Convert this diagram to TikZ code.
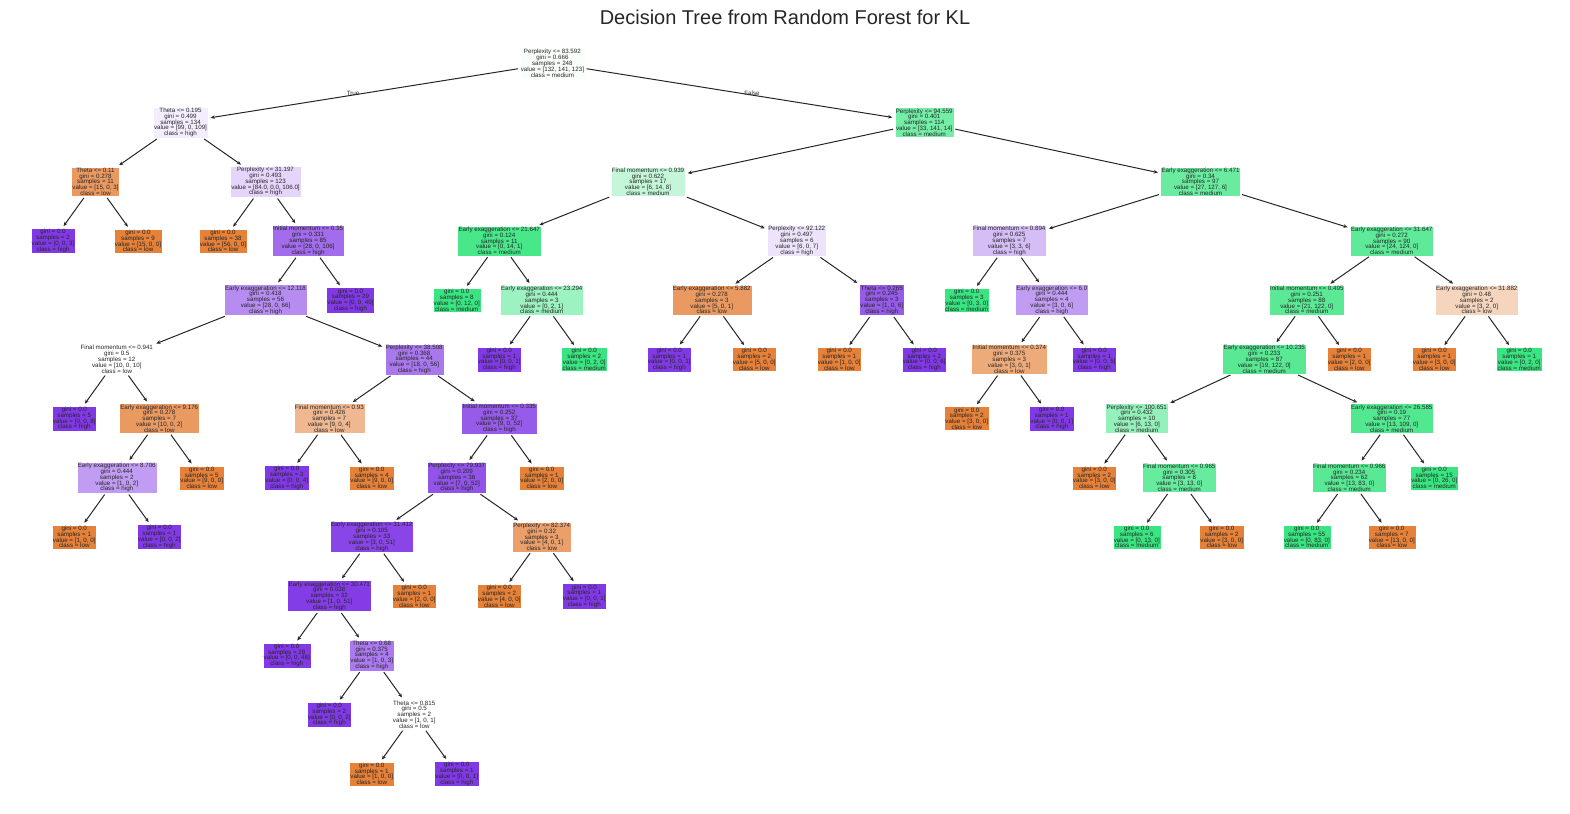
\documentclass[tikz,border=0pt]{standalone}
\usepackage{fontspec}
\setmainfont{Liberation Sans}
\usetikzlibrary{arrows.meta}

\definecolor{lowcls}{RGB}{229,129,57}
\definecolor{medcls}{RGB}{57,229,129}
\definecolor{highcls}{RGB}{129,57,229}
\definecolor{textgray}{RGB}{38,38,38}

\begin{document}
\begin{tikzpicture}[x=21.25pt,y=-59.2pt,->,>={Stealth[length=4.2pt,width=3.6pt]},shorten >=2.5pt,shorten <=1.5pt,line width=1pt,draw=textgray,
  font={\fontsize{6.2}{5.8}\selectfont\lineskiplimit=-10pt},text=textgray,
  box/.style={rectangle,draw=white,line width=0.3pt,inner sep=1pt,align=center}]
  \useasboundingbox (-2.494,-1.0693) rectangle (71.388,12.664);
  \node[font=\fontsize{20}{24}\selectfont] (title) at (34.447,-0.774) {Decision Tree from Random Forest for KL};

  % left half
  \node[box,fill=medcls!3] (n0) at (23.5,0) {Perplexity <= 83.592\\gini = 0.666\\samples = 248\\value = [132, 141, 123]\\class = medium};
  \node[box,fill=highcls!9] (n1) at (6,1) {Theta <= 0.195\\gini = 0.499\\samples = 134\\value = [99, 0, 109]\\class = high};
  \node[box,fill=lowcls!80] (n2) at (2,2) {Theta <= 0.11\\gini = 0.278\\samples = 11\\value = [15, 0, 3]\\class = low};
  \node[box,fill=highcls] (n3) at (0,3) {gini = 0.0\\samples = 2\\value = [0, 0, 3]\\class = high};
  \node[box,fill=lowcls] (n4) at (4,3) {gini = 0.0\\samples = 9\\value = [15, 0, 0]\\class = low};
  \node[box,fill=highcls!21] (n5) at (10,2) {Perplexity <= 31.197\\gini = 0.493\\samples = 123\\value = [84.0, 0.0, 106.0]\\class = high};
  \node[box,fill=lowcls] (n6) at (8,3) {gini = 0.0\\samples = 38\\value = [56, 0, 0]\\class = low};
  \node[box,fill=highcls!74] (n7) at (12,3) {Initial momentum <= 0.35\\gini = 0.331\\samples = 85\\value = [28, 0, 106]\\class = high};
  \node[box,fill=highcls!58] (n8) at (10,4) {Early exaggeration <= 12.118\\gini = 0.418\\samples = 56\\value = [28, 0, 66]\\class = high};
  \node[box,fill=white] (n9) at (3,5) {Final momentum <= 0.941\\gini = 0.5\\samples = 12\\value = [10, 0, 10]\\class = low};
  \node[box,fill=highcls] (n10) at (1,6) {gini = 0.0\\samples = 5\\value = [0, 0, 8]\\class = high};
  \node[box,fill=lowcls!80] (n11) at (5,6) {Early exaggeration <= 9.176\\gini = 0.278\\samples = 7\\value = [10, 0, 2]\\class = low};
  \node[box,fill=highcls!50] (n12) at (3,7) {Early exaggeration <= 8.706\\gini = 0.444\\samples = 2\\value = [1, 0, 2]\\class = high};
  \node[box,fill=lowcls] (n13) at (1,8) {gini = 0.0\\samples = 1\\value = [1, 0, 0]\\class = low};
  \node[box,fill=highcls] (n14) at (5,8) {gini = 0.0\\samples = 1\\value = [0, 0, 2]\\class = high};
  \node[box,fill=lowcls] (n15) at (7,7) {gini = 0.0\\samples = 5\\value = [9, 0, 0]\\class = low};
  \node[box,fill=highcls!68] (n16) at (17,5) {Perplexity <= 38.508\\gini = 0.368\\samples = 44\\value = [18, 0, 56]\\class = high};
  \node[box,fill=lowcls!56] (n17) at (13,6) {Final momentum <= 0.93\\gini = 0.426\\samples = 7\\value = [9, 0, 4]\\class = low};
  \node[box,fill=highcls] (n18) at (11,7) {gini = 0.0\\samples = 3\\value = [0, 0, 4]\\class = high};
  \node[box,fill=lowcls] (n19) at (15,7) {gini = 0.0\\samples = 4\\value = [9, 0, 0]\\class = low};
  \node[box,fill=highcls!83] (n20) at (21,6) {Initial momentum <= 0.335\\gini = 0.252\\samples = 37\\value = [9, 0, 52]\\class = high};
  \node[box,fill=highcls!87] (n21) at (19,7) {Perplexity <= 79.937\\gini = 0.209\\samples = 36\\value = [7, 0, 52]\\class = high};
  \node[box,fill=highcls!94] (n22) at (15,8) {Early exaggeration <= 31.412\\gini = 0.105\\samples = 33\\value = [3, 0, 51]\\class = high};
  \node[box,fill=highcls!98] (n23) at (13,9) {Early exaggeration <= 30.471\\gini = 0.038\\samples = 32\\value = [1, 0, 51]\\class = high};
  \node[box,fill=highcls] (n24) at (11,10) {gini = 0.0\\samples = 28\\value = [0, 0, 48]\\class = high};
  \node[box,fill=highcls!67] (n25) at (15,10) {Theta <= 0.68\\gini = 0.375\\samples = 4\\value = [1, 0, 3]\\class = high};
  \node[box,fill=highcls] (n26) at (13,11) {gini = 0.0\\samples = 2\\value = [0, 0, 2]\\class = high};
  \node[box,fill=white] (n27) at (17,11) {Theta <= 0.815\\gini = 0.5\\samples = 2\\value = [1, 0, 1]\\class = low};
  \node[box,fill=lowcls] (n28) at (15,12) {gini = 0.0\\samples = 1\\value = [1, 0, 0]\\class = low};
  \node[box,fill=highcls] (n29) at (19,12) {gini = 0.0\\samples = 1\\value = [0, 0, 1]\\class = high};
  \node[box,fill=lowcls] (n30) at (17,9) {gini = 0.0\\samples = 1\\value = [2, 0, 0]\\class = low};
  \node[box,fill=lowcls!75] (n31) at (23,8) {Perplexity <= 82.374\\gini = 0.32\\samples = 3\\value = [4, 0, 1]\\class = low};
  \node[box,fill=lowcls] (n32) at (21,9) {gini = 0.0\\samples = 2\\value = [4, 0, 0]\\class = low};
  \node[box,fill=highcls] (n33) at (25,9) {gini = 0.0\\samples = 1\\value = [0, 0, 1]\\class = high};
  \node[box,fill=lowcls] (n34) at (23,7) {gini = 0.0\\samples = 1\\value = [2, 0, 0]\\class = low};
  \node[box,fill=highcls] (n35) at (14,4) {gini = 0.0\\samples = 29\\value = [0, 0, 40]\\class = high};

  % right half
  \node[box,fill=medcls!70] (n36) at (41,1) {Perplexity <= 94.559\\gini = 0.401\\samples = 114\\value = [33, 141, 14]\\class = medium};
  \node[box,fill=medcls!30] (n37) at (28,2) {Final momentum <= 0.939\\gini = 0.622\\samples = 17\\value = [6, 14, 8]\\class = medium};
  \node[box,fill=medcls!93] (n38) at (21,3) {Early exaggeration <= 21.647\\gini = 0.124\\samples = 11\\value = [0, 14, 1]\\class = medium};
  \node[box,fill=medcls] (n39) at (19,4) {gini = 0.0\\samples = 8\\value = [0, 12, 0]\\class = medium};
  \node[box,fill=medcls!50] (n40) at (23,4) {Early exaggeration <= 23.294\\gini = 0.444\\samples = 3\\value = [0, 2, 1]\\class = medium};
  \node[box,fill=highcls] (n41) at (21,5) {gini = 0.0\\samples = 1\\value = [0, 0, 1]\\class = high};
  \node[box,fill=medcls] (n42) at (25,5) {gini = 0.0\\samples = 2\\value = [0, 2, 0]\\class = medium};
  \node[box,fill=highcls!14] (n43) at (35,3) {Perplexity <= 92.122\\gini = 0.497\\samples = 6\\value = [6, 0, 7]\\class = high};
  \node[box,fill=lowcls!80] (n44) at (31,4) {Early exaggeration <= 5.882\\gini = 0.278\\samples = 3\\value = [5, 0, 1]\\class = low};
  \node[box,fill=highcls] (n45) at (29,5) {gini = 0.0\\samples = 1\\value = [0, 0, 1]\\class = high};
  \node[box,fill=lowcls] (n46) at (33,5) {gini = 0.0\\samples = 2\\value = [5, 0, 0]\\class = low};
  \node[box,fill=highcls!83] (n47) at (39,4) {Theta <= 0.265\\gini = 0.245\\samples = 3\\value = [1, 0, 6]\\class = high};
  \node[box,fill=lowcls] (n48) at (37,5) {gini = 0.0\\samples = 1\\value = [1, 0, 0]\\class = low};
  \node[box,fill=highcls] (n49) at (41,5) {gini = 0.0\\samples = 2\\value = [0, 0, 6]\\class = high};
  \node[box,fill=medcls!75] (n50) at (54,2) {Early exaggeration <= 6.471\\gini = 0.34\\samples = 97\\value = [27, 127, 6]\\class = medium};
  \node[box,fill=highcls!33] (n51) at (45,3) {Final momentum <= 0.894\\gini = 0.625\\samples = 7\\value = [3, 3, 6]\\class = high};
  \node[box,fill=medcls] (n52) at (43,4) {gini = 0.0\\samples = 3\\value = [0, 3, 0]\\class = medium};
  \node[box,fill=highcls!50] (n53) at (47,4) {Early exaggeration <= 6.0\\gini = 0.444\\samples = 4\\value = [3, 0, 6]\\class = high};
  \node[box,fill=lowcls!67] (n54) at (45,5) {Initial momentum <= 0.374\\gini = 0.375\\samples = 3\\value = [3, 0, 1]\\class = low};
  \node[box,fill=lowcls] (n55) at (43,6) {gini = 0.0\\samples = 2\\value = [3, 0, 0]\\class = low};
  \node[box,fill=highcls] (n56) at (47,6) {gini = 0.0\\samples = 1\\value = [0, 0, 1]\\class = high};
  \node[box,fill=highcls] (n57) at (49,5) {gini = 0.0\\samples = 1\\value = [0, 0, 5]\\class = high};
  \node[box,fill=medcls!81] (n58) at (63,3) {Early exaggeration <= 31.647\\gini = 0.272\\samples = 90\\value = [24, 124, 0]\\class = medium};
  \node[box,fill=medcls!83] (n59) at (59,4) {Initial momentum <= 0.495\\gini = 0.251\\samples = 88\\value = [21, 122, 0]\\class = medium};
  \node[box,fill=medcls!84] (n60) at (57,5) {Early exaggeration <= 10.235\\gini = 0.233\\samples = 87\\value = [19, 122, 0]\\class = medium};
  \node[box,fill=medcls!54] (n61) at (51,6) {Perplexity <= 100.651\\gini = 0.432\\samples = 10\\value = [6, 13, 0]\\class = medium};
  \node[box,fill=lowcls] (n62) at (49,7) {gini = 0.0\\samples = 2\\value = [3, 0, 0]\\class = low};
  \node[box,fill=medcls!77] (n63) at (53,7) {Final momentum <= 0.965\\gini = 0.305\\samples = 8\\value = [3, 13, 0]\\class = medium};
  \node[box,fill=medcls] (n64) at (51,8) {gini = 0.0\\samples = 6\\value = [0, 13, 0]\\class = medium};
  \node[box,fill=lowcls] (n65) at (55,8) {gini = 0.0\\samples = 2\\value = [3, 0, 0]\\class = low};
  \node[box,fill=medcls!88] (n66) at (63,6) {Early exaggeration <= 26.585\\gini = 0.19\\samples = 77\\value = [13, 109, 0]\\class = medium};
  \node[box,fill=medcls!84] (n67) at (61,7) {Final momentum <= 0.966\\gini = 0.234\\samples = 62\\value = [13, 83, 0]\\class = medium};
  \node[box,fill=medcls] (n68) at (59,8) {gini = 0.0\\samples = 55\\value = [0, 83, 0]\\class = medium};
  \node[box,fill=lowcls] (n69) at (63,8) {gini = 0.0\\samples = 7\\value = [13, 0, 0]\\class = low};
  \node[box,fill=medcls] (n70) at (65,7) {gini = 0.0\\samples = 15\\value = [0, 26, 0]\\class = medium};
  \node[box,fill=lowcls] (n71) at (61,5) {gini = 0.0\\samples = 1\\value = [2, 0, 0]\\class = low};
  \node[box,fill=lowcls!33] (n72) at (67,4) {Early exaggeration <= 31.882\\gini = 0.48\\samples = 2\\value = [3, 2, 0]\\class = low};
  \node[box,fill=lowcls] (n73) at (65,5) {gini = 0.0\\samples = 1\\value = [3, 0, 0]\\class = low};
  \node[box,fill=medcls] (n74) at (69,5) {gini = 0.0\\samples = 1\\value = [0, 2, 0]\\class = medium};

\path
  (n0) edge node[anchor=east,inner xsep=4pt] {True} (n1)
  (n0) edge node[anchor=west,inner xsep=4pt] {False} (n36)
  (n1) edge (n2)   (n1) edge (n5)
  (n2) edge (n3)   (n2) edge (n4)
  (n5) edge (n6)   (n5) edge (n7)
  (n7) edge (n8)   (n7) edge (n35)
  (n8) edge (n9)   (n8) edge (n16)
  (n9) edge (n10)  (n9) edge (n11)
  (n11) edge (n12) (n11) edge (n15)
  (n12) edge (n13) (n12) edge (n14)
  (n16) edge (n17) (n16) edge (n20)
  (n17) edge (n18) (n17) edge (n19)
  (n20) edge (n21) (n20) edge (n34)
  (n21) edge (n22) (n21) edge (n31)
  (n22) edge (n23) (n22) edge (n30)
  (n23) edge (n24) (n23) edge (n25)
  (n25) edge (n26) (n25) edge (n27)
  (n27) edge (n28) (n27) edge (n29)
  (n31) edge (n32) (n31) edge (n33)
  (n36) edge (n37) (n36) edge (n50)
  (n37) edge (n38) (n37) edge (n43)
  (n38) edge (n39) (n38) edge (n40)
  (n40) edge (n41) (n40) edge (n42)
  (n43) edge (n44) (n43) edge (n47)
  (n44) edge (n45) (n44) edge (n46)
  (n47) edge (n48) (n47) edge (n49)
  (n50) edge (n51) (n50) edge (n58)
  (n51) edge (n52) (n51) edge (n53)
  (n53) edge (n54) (n53) edge (n57)
  (n54) edge (n55) (n54) edge (n56)
  (n58) edge (n59) (n58) edge (n72)
  (n59) edge (n60) (n59) edge (n71)
  (n60) edge (n61) (n60) edge (n66)
  (n61) edge (n62) (n61) edge (n63)
  (n63) edge (n64) (n63) edge (n65)
  (n66) edge (n67) (n66) edge (n70)
  (n67) edge (n68) (n67) edge (n69)
  (n72) edge (n73) (n72) edge (n74)
;
\end{tikzpicture}
\end{document}
